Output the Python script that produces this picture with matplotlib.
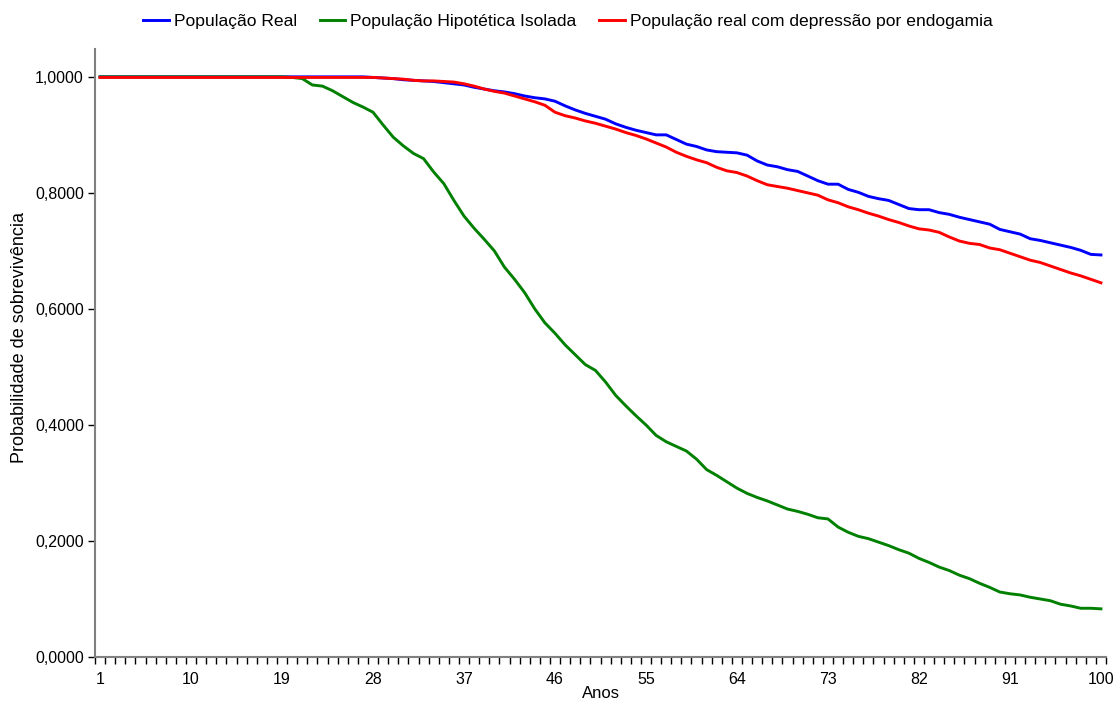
import matplotlib
matplotlib.use("Agg")
import matplotlib.pyplot as plt
from matplotlib.ticker import FixedLocator, FuncFormatter
import numpy as np

plt.rcParams['font.family'] = ['Liberation Sans', 'DejaVu Sans']

anos = list(range(1, 101))

real = [1.000] * 27 + [
    0.999, 0.998, 0.997, 0.995, 0.994, 0.993, 0.992, 0.990, 0.988, 0.986,
    0.982, 0.979, 0.976, 0.974, 0.971, 0.967, 0.964, 0.962, 0.958, 0.950,
    0.943, 0.937, 0.932, 0.927, 0.919, 0.913, 0.908, 0.904, 0.900, 0.900,
    0.892, 0.884, 0.880, 0.874, 0.871, 0.870, 0.869, 0.865, 0.855, 0.848,
    0.845, 0.840, 0.837, 0.829, 0.821, 0.815, 0.815, 0.806, 0.801, 0.794,
    0.790, 0.787, 0.780, 0.773, 0.771, 0.771, 0.766, 0.763, 0.758, 0.754,
    0.750, 0.746, 0.737, 0.733, 0.729, 0.721, 0.718, 0.714, 0.710, 0.706,
    0.701, 0.694, 0.693]

isolada = [1.000] * 19 + [
    0.999, 0.997, 0.986, 0.984, 0.976, 0.966, 0.956, 0.948, 0.939, 0.917,
    0.896, 0.881, 0.868, 0.859, 0.836, 0.816, 0.787, 0.760, 0.739, 0.720,
    0.700, 0.672, 0.651, 0.628, 0.600, 0.576, 0.558, 0.538, 0.521, 0.504,
    0.494, 0.474, 0.451, 0.433, 0.416, 0.400, 0.382, 0.371, 0.363, 0.355,
    0.341, 0.323, 0.313, 0.302, 0.291, 0.282, 0.275, 0.269, 0.262, 0.255,
    0.251, 0.246, 0.240, 0.238, 0.224, 0.215, 0.208, 0.204, 0.198, 0.192,
    0.185, 0.179, 0.170, 0.163, 0.155, 0.149, 0.141, 0.135, 0.127, 0.120,
    0.112, 0.109, 0.107, 0.103, 0.100, 0.097, 0.091, 0.088, 0.084, 0.084,
    0.083]

endogamia = [0.999] * 28 + [
    0.998, 0.997, 0.996, 0.994, 0.993, 0.993, 0.992, 0.991, 0.988, 0.984,
    0.979, 0.975, 0.972, 0.967, 0.962, 0.957, 0.951, 0.939, 0.933, 0.929,
    0.924, 0.920, 0.915, 0.910, 0.904, 0.899, 0.893, 0.886, 0.879, 0.870,
    0.863, 0.857, 0.852, 0.844, 0.838, 0.835, 0.829, 0.821, 0.814, 0.811,
    0.808, 0.804, 0.800, 0.796, 0.788, 0.783, 0.776, 0.771, 0.765, 0.760,
    0.754, 0.749, 0.743, 0.738, 0.736, 0.732, 0.724, 0.717, 0.713, 0.711,
    0.705, 0.702, 0.696, 0.690, 0.684, 0.680, 0.674, 0.668, 0.662, 0.657,
    0.651, 0.645]

series_names = ["População Real", "População Hipotética Isolada",
                "População real com depressão por endogamia"]
series_colors = ["#0000FF", "#008000", "#FF0000"]
x_tick_labels = [1, 10, 19, 28, 37, 46, 55, 64, 73, 82, 91, 100]
y_ticks = [0.0, 0.2, 0.4, 0.6, 0.8, 1.0]

fig = plt.figure(figsize=(11.16, 7.03), dpi=100)
ax = fig.add_axes([95/1116, 1-657/703, (1106-95)/1116, (657-49)/703])

for vals, name, col in zip([real, isolada, endogamia], series_names, series_colors):
    ax.plot(anos, vals, color=col, lw=2.1, label=name, solid_joinstyle='round')

ax.set_xlim(0.5, 100.5)
ax.set_ylim(0, 1.048)

ax.xaxis.set_major_locator(FixedLocator(x_tick_labels))
ax.xaxis.set_minor_locator(FixedLocator(np.arange(0.5, 101, 1.0)))
ax.tick_params(axis='x', which='major', length=0, pad=11, labelsize=11.5)
ax.tick_params(axis='x', which='minor', length=5, width=1, color='black', direction='out')
ax.set_yticks(y_ticks)
ax.yaxis.set_major_formatter(FuncFormatter(lambda v, p: f"{v:.4f}".replace('.', ',')))
ax.tick_params(axis='y', length=5, width=1, color='black', labelsize=11.5, pad=3)

for s in ['top', 'right']:
    ax.spines[s].set_visible(False)
for s in ['left', 'bottom']:
    ax.spines[s].set_color('#808080')
    ax.spines[s].set_linewidth(1.5)

ax.set_xlabel("Anos", fontsize=12, labelpad=-1)
ax.set_ylabel("Probabilidade de sobrevivência", fontsize=13)
ax.yaxis.set_label_coords(-0.066, 0.525)

fig.legend(loc='upper center', bbox_to_anchor=(0.509, 1.003), ncol=3, frameon=False,
           fontsize=12.6, handlelength=1.45, handletextpad=0.3, columnspacing=1.3)

fig.savefig("out.png", dpi=100)
